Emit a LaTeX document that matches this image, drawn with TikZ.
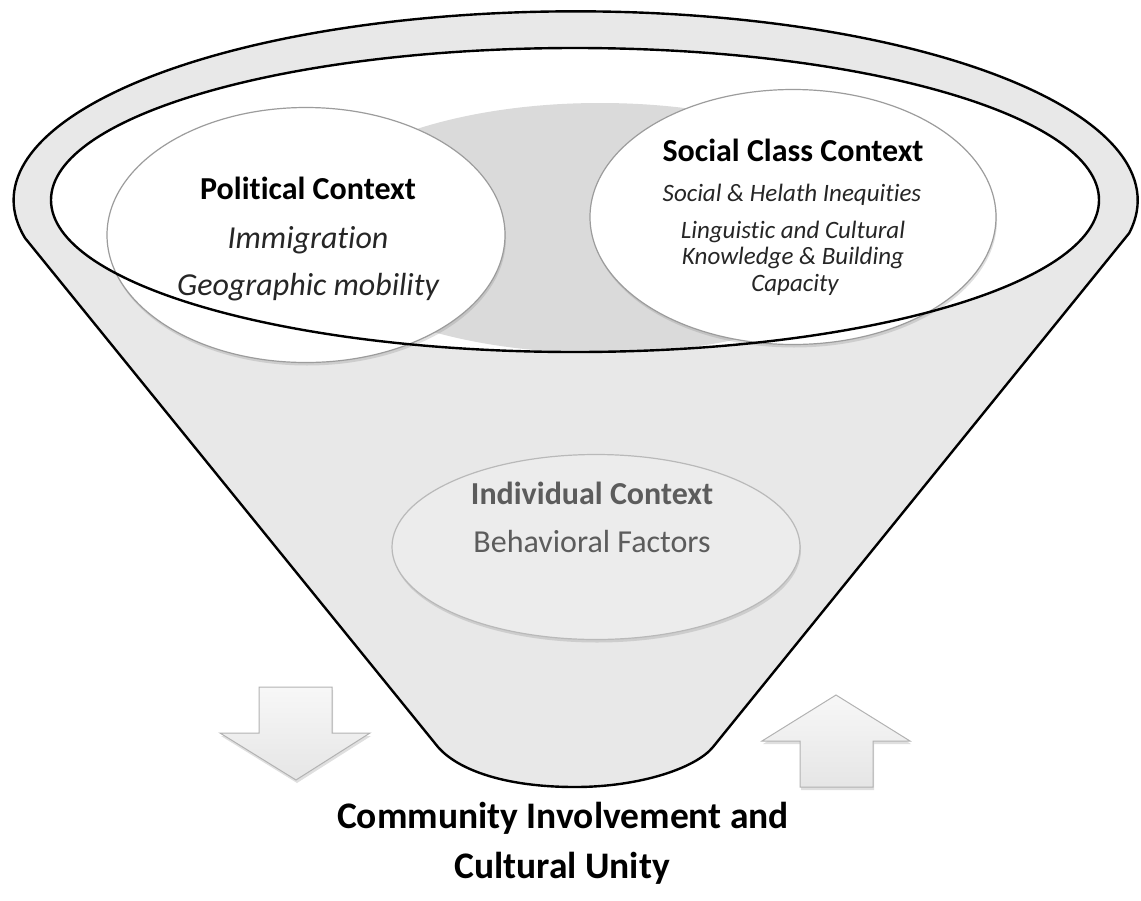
\documentclass[tikz,border=0pt]{standalone}
\usepackage{fontspec}
\setmainfont{Carlito}[Ligatures=NoCommon]
\usetikzlibrary{shapes.geometric,shadows}
\definecolor{FunnelGray}{HTML}{E8E8E8}
\definecolor{CoreGray}{HTML}{DADADA}
\definecolor{RimGray}{HTML}{9C9C9C}
\definecolor{IndGray}{HTML}{ECECEC}
\definecolor{IndText}{HTML}{5C5C5C}
\definecolor{SubText}{HTML}{262626}
\newcommand\headfont{\fontsize{32}{38}\selectfont\bfseries}
\newcommand\itemfont{\fontsize{32}{38}\selectfont\itshape}
\newcommand\smallitem{\fontsize{25}{30}\selectfont\itshape}
\tikzstyle{bubble} = [ellipse, draw=RimGray, line width=1.2pt, fill=white, inner sep=0pt,
  drop shadow={opacity=0.25, shadow xshift=1pt, shadow yshift=-3pt}]
\tikzstyle{indbubble} = [bubble, fill=IndGray, draw=gray!55]
\tikzstyle{head} = [text=black, font=\headfont]
\tikzstyle{item} = [text=SubText, font=\itemfont]
\tikzstyle{sitem} = [text=SubText, font=\smallitem]
\tikzstyle{caption} = [text=black, font=\fontsize{37.5}{44}\selectfont\bfseries]
\tikzstyle{arrowbox} = [draw=gray!60, line width=1pt, top color=gray!6, bottom color=gray!20,
  drop shadow={opacity=0.25, shadow xshift=1pt, shadow yshift=-3pt}]
\tikzset{every picture/.style={x=1pt, y=-1pt}}

\begin{document}
\begin{tikzpicture}
\useasboundingbox (0,0) rectangle (1141,900);
% funnel body
\fill[FunnelGray] (25,238) arc[start angle=191.5, end angle=-10, x radius=562pt, y radius=189pt]
  -- (713,747) .. controls (696,768) and (640,787) .. (575,787)
  .. controls (505,787) and (458,770) .. (438,747) -- cycle;
\fill[white] (575,200) ellipse[x radius=524pt, y radius=152pt];
\begin{scope}
\clip (575,200) ellipse[x radius=524pt, y radius=152pt];
\fill[CoreGray] (600,228) ellipse[x radius=300pt, y radius=125pt];
\end{scope}
% context bubbles
\node[bubble, minimum width=398pt, minimum height=255pt] (pol) at (306,235) {};
\node[bubble, minimum width=406pt, minimum height=255pt] (soc) at (793,217) {};
\node[indbubble, minimum width=408pt, minimum height=185pt] (ind) at (596,547) {};
\node[head] (polh) at (308,188) {Political Context};
\node[item] (poli) at (308,240) {Immigration};
\node[item] (polg) at (308,287) {Geographic mobility};
\node[head] (soch) at (793,150) {Social Class Context};
\node[sitem] (soci) at (792,195) {Social \& Helath Inequities};
\node[sitem] (socl) at (793,232) {Linguistic and Cultural};
\node[sitem] (sock) at (793,258) {Knowledge \& Building};
\node[sitem] (socc) at (795,285) {Capacity};
\node[head, text=IndText] (indh) at (592,493) {Individual Context};
\node[text=IndText, font=\fontsize{32}{38}\selectfont] (indb) at (592,542) {Behavioral Factors};
% rims on top
\draw[line width=2.4pt] (575,200) ellipse[x radius=524pt, y radius=152pt];
\draw[line width=2.4pt, line join=round] (25,238) arc[start angle=191.5, end angle=-10, x radius=562pt, y radius=189pt]
  -- (713,747) .. controls (696,768) and (640,787) .. (575,787)
  .. controls (505,787) and (458,770) .. (438,747) -- cycle;
% in and out arrows
\draw[arrowbox] (259,687) -- (332,687) -- (332,733) -- (370,733) -- (296,780) -- (220,733) -- (259,733) -- cycle;
\draw[arrowbox] (800,787) -- (873,787) -- (873,741) -- (910,741) -- (836,695) -- (762,741) -- (800,741) -- cycle;
\node[caption] (cinv) at (563,818) {Community Involvement and};
\node[caption] (cuni) at (562,868) {Cultural Unity};
\end{tikzpicture}
\end{document}
